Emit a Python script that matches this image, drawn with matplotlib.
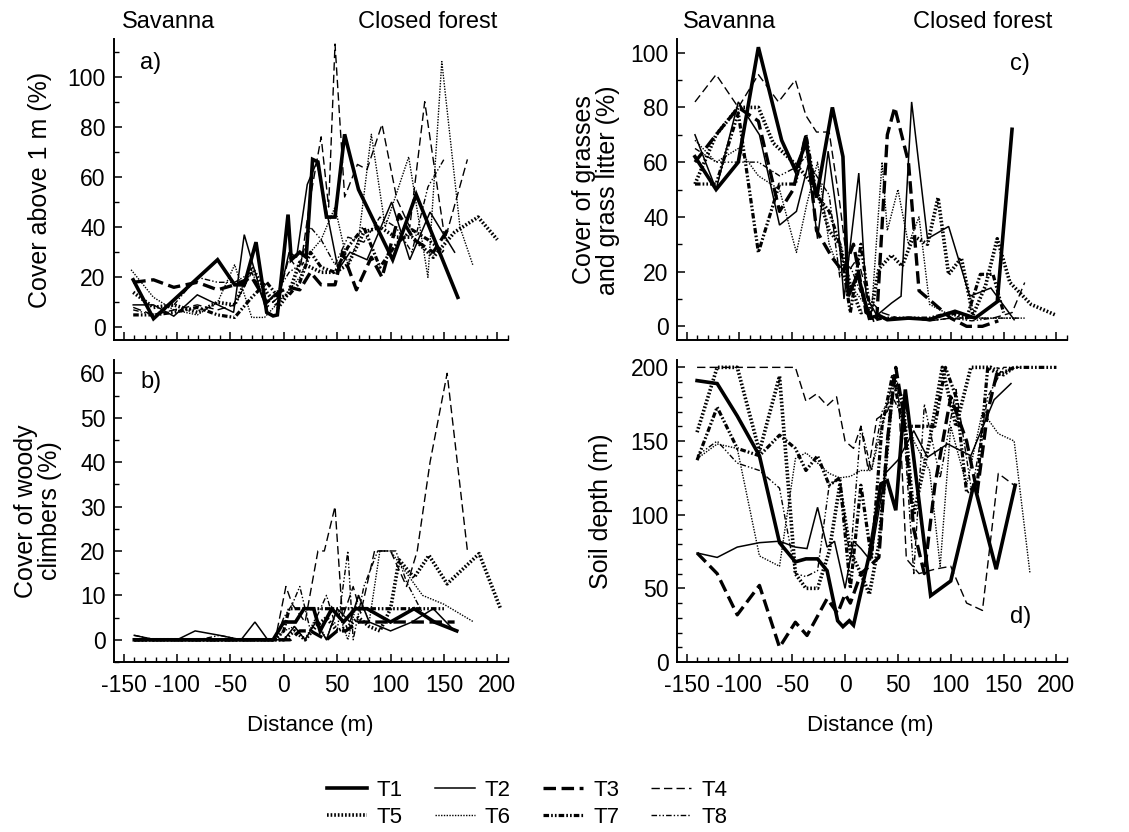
import matplotlib
matplotlib.use("Agg")
import matplotlib.pyplot as plt
from matplotlib.lines import Line2D
from matplotlib.ticker import MultipleLocator

plt.rcParams["font.family"] = ["Liberation Sans", "DejaVu Sans"]
plt.rcParams["lines.scale_dashes"] = False

transects = ["T1", "T2", "T3", "T4", "T5", "T6", "T7", "T8"]

# a) cover above 1 m (%)
a_dist = [
    [-141, -122, -62, -46, -37, -26, -16, -10, -6, 4, 7, 15, 21, 27, 32, 40, 48, 57, 70, 102, 124, 163],
    [-141, -122, -103, -81, -47, -37, -18, -3, 5, 12, 22, 31, 51, 62, 78, 101, 118, 137, 160],
    [-141, -122, -103, -81, -62, -46, -30, -16, -5, 5, 15, 25, 35, 48, 55, 68, 82, 92, 108, 122, 140, 155],
    [-141, -122, -103, -81, -62, -46, -30, -16, -5, 5, 15, 25, 35, 42, 48, 57, 69, 78, 92, 106, 118, 132, 151, 172],
    [-141, -122, -103, -81, -62, -46, -30, -16, -5, 5, 15, 25, 35, 48, 60, 75, 90, 105, 120, 140, 160, 182, 200],
    [-143, -122, -103, -81, -62, -46, -30, -18, -5, 5, 15, 25, 35, 48, 60, 70, 82, 95, 117, 135, 148, 165, 177],
    [-141, -122, -103, -81, -62, -46, -30, -16, -5, 5, 15, 25, 35, 48, 60, 75, 90, 105, 120, 135, 150],
    [-141, -122, -103, -81, -62, -46, -30, -16, -5, 5, 15, 25, 35, 48, 60, 75, 90, 105, 120, 135, 150],
]
a_cover = [
    [19, 3.5, 27, 17, 17, 34, 6, 4.6, 5, 45, 27, 30, 28, 67, 66, 44, 44, 77, 55, 27, 53, 12],
    [9, 9, 4.5, 13, 6, 37, 9, 15, 30, 28, 57, 66, 23, 30, 27, 50, 27, 46, 30],
    [18, 19, 16, 18, 15, 17, 20, 10, 14, 16, 15, 22, 17, 17, 30, 15, 28, 20, 45, 35, 30, 40],
    [8, 5, 7, 9, 7, 9, 22, 8, 12, 28, 22, 52, 76, 48, 113, 52, 65, 63, 81, 51, 40, 90, 35, 67],
    [14, 8, 9, 6, 10, 9, 24, 14, 8, 14, 26, 24, 22, 22, 25, 38, 40, 36, 36, 28, 38, 44, 35],
    [23, 12, 7, 5, 10, 25, 4, 4, 10, 15, 20, 30, 35, 48, 25, 35, 77, 40, 68, 20, 106, 40, 25],
    [5, 5, 6, 8, 5, 4, 12, 18, 12, 13, 18, 30, 24, 22, 32, 40, 24, 33, 39, 35, 30],
    [7, 5, 9, 20, 18, 18, 22, 10, 15, 22, 25, 40, 35, 25, 36, 34, 44, 40, 30, 56, 67],
]

# b) cover of woody climbers (%)
b_dist = [
    [-140, -120, -100, -80, -60, -40, -20, -10, 0, 11, 19, 28, 34, 45, 56, 67, 78, 100, 122, 141, 162],
    [-140, -120, -100, -83, -60, -40, -27, -15, 0, 10, 20, 30, 40, 50, 62, 70, 80, 100, 120, 140, 160],
    [-140, -120, -100, -80, -60, -40, -20, -5, 6, 15, 25, 40, 50, 58, 70, 80, 100, 120, 140, 160],
    [-140, -120, -100, -80, -60, -40, -20, -8, 2, 8, 20, 32, 38, 48, 55, 65, 72, 85, 100, 115, 125, 137, 153, 172],
    [-140, -120, -100, -80, -60, -40, -20, -8, 0, 10, 20, 30, 40, 50, 60, 70, 80, 90, 100, 108, 122, 136, 153, 183, 203],
    [-140, -120, -100, -80, -60, -40, -20, -8, 0, 10, 20, 30, 40, 50, 60, 70, 80, 90, 100, 115, 130, 150, 178],
    [-140, -120, -100, -80, -60, -40, -20, -8, 0, 5, 15, 30, 50, 70, 90, 110, 130, 150],
    [-140, -120, -100, -80, -60, -40, -20, -8, 0, 8, 15, 25, 40, 50, 60, 65, 75, 88, 105, 115, 130, 140],
]
b_cover = [
    [0, 0, 0, 0, 0, 0, 0, 0, 4, 4, 7, 7, 2, 7, 4, 7, 7, 4, 7, 4, 2],
    [1, 0, 0, 2, 1, 0, 4, 0, 0, 3, 0, 4, 0, 7, 4, 10, 4, 2, 4, 7, 2],
    [0, 0, 0, 0, 0, 0, 0, 0, 0, 2, 2, 0, 2, 2, 4, 4, 4, 4, 4, 4],
    [0, 0, 0, 0, 0, 0, 0, 0, 12, 8, 4, 20, 20, 30, 5, 12, 6, 20, 20, 12, 20, 40, 60, 20],
    [0, 0, 0, 0, 0, 0, 0, 0, 0, 2, 0, 3, 5, 2, 3, 5, 3, 2, 7, 18, 14, 19, 12.6, 19.4, 7],
    [0, 0, 0, 0, 0, 0, 0, 0, 2, 3, 0, 5, 0, 7, 0, 10, 4, 20, 20, 15, 10, 8, 4],
    [0, 0, 0, 0, 0, 0, 0, 0, 2, 7, 7, 7, 7, 7, 7, 7, 7, 7],
    [1, 0, 0, 0, 1, 0, 0, 0, 5, 8, 12, 2, 10, 2, 20, 0, 12, 20, 20, 13, 6, 4],
]

# c) cover of grasses and grass litter (%)
c_dist = [
    [-142, -122, -101, -82, -60, -47, -37, -27, -12, -2, 3, 12, 23, 32, 40, 60, 80, 104, 123, 144, 158],
    [-142, -122, -101, -81, -62, -46, -35, -26, -16, -7, -1, 13, 20, 30, 44, 53, 63, 78, 98, 118, 138, 160],
    [-142, -122, -101, -82, -62, -49, -37, -27, -12, -2, 8, 20, 30, 40, 47, 60, 70, 85, 100, 115, 130, 145],
    [-142, -122, -101, -82, -63, -47, -37, -27, -15, -5, 3, 12, 22, 35, 50, 65, 80, 100, 120, 140, 158, 170],
    [-142, -122, -101, -82, -68, -49, -37, -27, -15, -5, 5, 15, 25, 32, 44, 54, 65, 78, 88, 98, 110, 121, 133, 144, 156, 176, 200],
    [-142, -122, -101, -82, -62, -46, -36, -26, -15, -5, 5, 15, 25, 35, 40, 50, 60, 70, 80, 95, 110, 130, 150, 170],
    [-142, -122, -101, -82, -62, -47, -37, -27, -15, -5, 5, 15, 25, 35, 50, 65, 80, 100, 115, 128, 140, 150],
    [-142, -122, -101, -82, -62, -47, -37, -27, -15, -5, 5, 15, 25, 35, 50, 65, 80, 100, 120, 140, 165],
]
c_cover = [
    [62, 50, 60, 102, 68, 57, 67, 47, 80, 62, 11, 19, 3, 4, 2.4, 3, 2.5, 5.5, 3, 9, 72],
    [70, 50, 82, 70, 37, 42, 59, 32, 64, 39, 10, 56, 11, 4, 8.5, 11, 82, 32, 36.5, 11, 14, 2.4],
    [60, 70, 80, 75, 42, 50, 70, 35, 25, 20, 30, 5, 3, 70, 80, 60, 13, 8, 3, 0, 0, 2],
    [82, 92, 80, 92, 82, 90, 77, 71, 71, 45, 20, 25, 10, 5, 3, 3, 2, 3, 3, 3, 5, 16],
    [52, 70, 80, 80, 67, 60, 55, 50, 35, 30, 15, 5, 6, 21, 26, 22, 33, 30, 47, 19, 25, 4, 15, 32, 16, 8, 4],
    [68, 60, 65, 55, 50, 27, 45, 60, 30, 20, 15, 10, 5, 60, 35, 50, 30, 40, 8, 5, 3, 3, 3, 3],
    [52, 52, 78, 27, 52, 52, 70, 48, 42, 30, 5, 30, 2, 3, 3, 3, 3, 5, 3, 19, 19, 5],
    [65, 60, 60, 60, 55, 58, 62, 55, 48, 18, 22, 12, 3, 3, 3, 3, 2, 3, 2, 3, 3],
]

# d) soil depth
d_dist = [
    [-140, -121, -102, -81, -62, -47, -37, -26, -17, -7, -2, 4, 8, 23, 34, 40, 48, 57, 81, 100, 122, 143, 161],
    [-140, -121, -102, -81, -62, -47, -36, -26, -17, -10, 0, 8, 15, 24, 38, 50, 65, 78, 97, 119, 141, 157],
    [-140, -121, -102, -81, -62, -47, -36, -17, -7, 0, 5, 15, 23, 32, 40, 48, 55, 65, 75, 85, 100, 115, 125, 135, 145],
    [-140, -120, -100, -80, -60, -47, -37, -27, -17, -8, 0, 8, 15, 22, 30, 40, 50, 58, 70, 85, 100, 115, 130, 145, 160],
    [-140, -121, -102, -81, -62, -47, -37, -26, -15, -5, 5, 15, 23, 32, 46, 55, 65, 80, 92, 105, 119, 138, 150, 160],
    [-140, -121, -102, -81, -62, -47, -37, -26, -15, -5, 5, 15, 25, 35, 45, 55, 65, 80, 90, 100, 115, 130, 145, 160, 175],
    [-140, -121, -102, -81, -62, -47, -37, -26, -15, -5, 5, 15, 25, 35, 45, 55, 65, 75, 85, 95, 105, 115, 125, 135, 145, 160, 180, 200],
    [-140, -121, -102, -81, -62, -47, -37, -26, -15, -5, 5, 15, 25, 35, 45, 55, 65, 75, 90, 105, 120, 135, 150, 165],
]
d_depth = [
    [191, 189, 167, 140, 81, 68, 70, 70, 62, 28, 24, 28, 25, 73, 121, 123, 103, 185, 45, 55, 121, 63, 120],
    [74, 71, 78, 81, 82, 78, 77, 105, 78, 82, 50, 82, 77, 69, 128, 137, 157, 139, 148, 140, 178, 189],
    [74, 60, 32, 52, 10, 27, 18, 43, 33, 46, 40, 60, 65, 71, 150, 200, 170, 90, 60, 120, 180, 150, 115, 170, 200],
    [200, 200, 200, 200, 200, 200, 177, 182, 174, 180, 150, 145, 160, 130, 165, 170, 190, 70, 60, 63, 65, 40, 35, 128, 120],
    [156, 200, 200, 143, 194, 60, 50, 50, 75, 120, 75, 60, 46, 80, 194, 175, 100, 150, 200, 160, 200, 200, 195, 200],
    [138, 148, 145, 72, 65, 138, 142, 135, 128, 125, 126, 130, 130, 160, 190, 180, 150, 130, 65, 160, 120, 170, 155, 150, 60],
    [137, 173, 145, 140, 154, 145, 130, 140, 120, 125, 50, 120, 70, 160, 195, 160, 160, 160, 160, 200, 180, 115, 120, 200, 195, 200, 200, 200],
    [140, 150, 135, 130, 118, 60, 58, 62, 120, 125, 70, 160, 130, 170, 180, 165, 60, 175, 125, 185, 115, 180, 200, 200],
]

# line width and dash pattern per transect
styles = [
    dict(lw=2.6, dashes=()),
    dict(lw=1.1, dashes=()),
    dict(lw=2.4, dashes=(9, 4)),
    dict(lw=1.0, dashes=(6, 3)),
    dict(lw=2.6, dashes=(1.2, 1.4)),
    dict(lw=1.0, dashes=(1, 1)),
    dict(lw=2.3, dashes=(4, 1.5, 1.2, 1.5, 1.2, 1.5)),
    dict(lw=1.0, dashes=(4, 1.5, 1, 1.5, 1, 1.5)),
]

W, H = 1129, 832
fig = plt.figure(figsize=(W / 100, H / 100), dpi=100)


def px_axes(left, top, right, bottom):
    return fig.add_axes([left / W, 1 - bottom / H, (right - left) / W, (bottom - top) / H])


def draw_panel(ax, dists, vals, ylim, ymajor, yminor, show_xlabels):
    for xs, ys, st in zip(dists, vals, styles):
        line, = ax.plot(xs, ys, color="black", lw=st["lw"], solid_joinstyle="miter")
        if st["dashes"]:
            line.set_dashes(st["dashes"])
    ax.set_xlim(-159, 210)
    ax.set_ylim(*ylim)
    ax.xaxis.set_major_locator(MultipleLocator(50))
    ax.xaxis.set_minor_locator(MultipleLocator(10))
    ax.yaxis.set_major_locator(MultipleLocator(ymajor))
    ax.yaxis.set_minor_locator(MultipleLocator(yminor))
    for side in ("top", "right"):
        ax.spines[side].set_visible(False)
    for side in ("left", "bottom"):
        ax.spines[side].set_linewidth(1.4)
    ax.tick_params(which="major", direction="in", length=6, width=1.1, labelsize=16.5, pad=6)
    ax.tick_params(which="minor", direction="in", length=3.5, width=1.0)
    if not show_xlabels:
        ax.tick_params(axis="x", labelbottom=False)
    else:
        ax.set_xticks([-150, -100, -50, 0, 50, 100, 150, 200])
        ax.set_xticklabels(["-150", "-100", "-50", "0", "50", "100", "150", "200"])
        ax.tick_params(axis="x", pad=9)


ax_a = px_axes(114, 39, 508, 340)
ax_c = px_axes(677, 39, 1067, 340)
ax_b = px_axes(114, 360, 508, 662)
ax_d = px_axes(677, 360, 1067, 662)

draw_panel(ax_a, a_dist, a_cover, (-5, 115), 20, 10, False)
draw_panel(ax_c, c_dist, c_cover, (-5, 105), 20, 10, False)
draw_panel(ax_b, b_dist, b_cover, (-5, 63), 10, 5, True)
draw_panel(ax_d, d_dist, d_depth, (0, 205), 50, 10, True)


def ftext(x, y, s, size=17, **kw):
    fig.text(x / W, 1 - y / H, s, fontsize=size, **kw)


# zone labels above the top panels
ftext(122, 22, "Savanna", ha="left", va="center")
ftext(497, 22, "Closed forest", ha="right", va="center")
ftext(683, 22, "Savanna", ha="left", va="center")
ftext(1052, 22, "Closed forest", ha="right", va="center")

# panel letters
ftext(140, 63, "a)", ha="left", va="center")
ftext(1010, 64, "c)", ha="left", va="center")
ftext(140, 382, "b)", ha="left", va="center")
ftext(1010, 617, "d)", ha="left", va="center")

# axis titles
ftext(40, 190, "Cover above 1 m (%)", size=18, rotation=90, ha="center", va="center")
ftext(38, 511, "Cover of woody\nclimbers (%)", size=18, rotation=90, ha="center", va="center", linespacing=1.0)
ftext(596, 190, "Cover of grasses\nand grass litter (%)", size=18, rotation=90, ha="center", va="center", linespacing=1.0)
ftext(601, 511, "Soil depth (m)", size=18, rotation=90, ha="center", va="center")
ftext(310, 726, "Distance (m)", size=16, ha="center", va="center")
ftext(870, 726, "Distance (m)", size=16, ha="center", va="center")

# legend: four columns, two rows
handles = []
for st in styles:
    h = Line2D([], [], color="black", lw=st["lw"])
    if st["dashes"]:
        h.set_dashes(st["dashes"])
    handles.append(h)
order = [0, 4, 1, 5, 2, 6, 3, 7]
fig.legend([handles[i] for i in order], [transects[i] for i in order],
           ncol=4, loc="center", bbox_to_anchor=(527 / W, 1 - 804 / H),
           frameon=False, fontsize=16, handlelength=1.8, handletextpad=0.45,
           columnspacing=1.45, labelspacing=0.28, borderpad=0.1)

fig.savefig("out.png", dpi=100)
